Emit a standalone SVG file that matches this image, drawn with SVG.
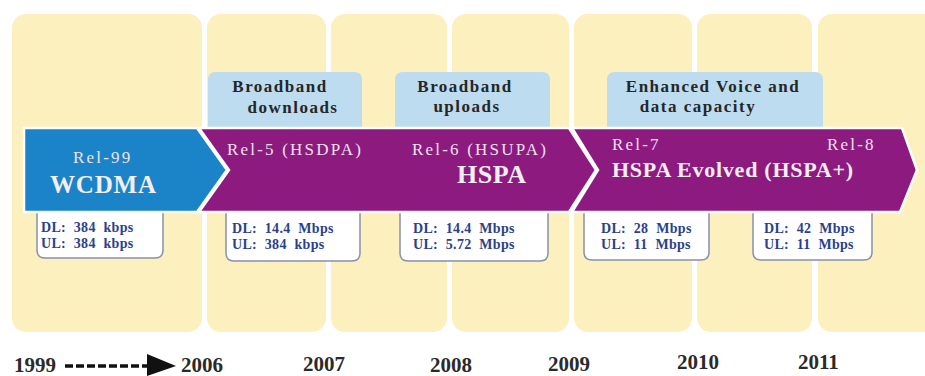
<svg xmlns="http://www.w3.org/2000/svg" width="925" height="376" viewBox="0 0 925 376">
<style>
.col{fill:#fcf0bf}
.lbl{fill:#bddcef}
.lt{font-family:"Liberation Serif",serif;font-weight:bold;font-size:17px;letter-spacing:1.5px;fill:#262626;text-anchor:middle}
.rel{font-family:"Liberation Serif",serif;font-size:17px;letter-spacing:2.2px;fill:#eee2ec}
.big{font-family:"Liberation Serif",serif;font-weight:bold;fill:#f4eef2}
.box{fill:#ffffff;stroke:#8790ad;stroke-width:1.5}
.dt{font-family:"Liberation Serif",serif;font-weight:bold;font-size:14px;letter-spacing:0.3px;word-spacing:4px;fill:#2b3f8c}
.yr{font-family:"Liberation Serif",serif;font-weight:bold;font-size:21px;fill:#2a2a2a}
</style>
<rect width="925" height="376" fill="#ffffff"/>
<g id="columns">
<rect class="col" x="12" y="14" width="190" height="318" rx="14"/>
<rect class="col" x="207" y="14" width="119" height="318" rx="14"/>
<rect class="col" x="331" y="14" width="116" height="318" rx="14"/>
<rect class="col" x="452" y="14" width="117" height="318" rx="14"/>
<rect class="col" x="574" y="14" width="118" height="318" rx="14"/>
<rect class="col" x="697" y="14" width="115" height="318" rx="14"/>
<rect class="col" x="818" y="14" width="120" height="318" rx="14"/>
</g>
<g id="label-downloads">
<path class="lbl" d="M208,130 V80 Q208,72 216,72 H354 Q362,72 362,80 V130 Z"/>
<text class="lt" x="280" y="92">Broadband</text>
<text class="lt" x="293" y="113">downloads</text>
</g>
<g id="label-uploads">
<path class="lbl" d="M395,130 V80 Q395,72 403,72 H542 Q550,72 550,80 V130 Z"/>
<text class="lt" x="465" y="92">Broadband</text>
<text class="lt" x="467" y="112">uploads</text>
</g>
<g id="label-enhanced">
<path class="lbl" d="M607,130 V80 Q607,72 615,72 H815 Q823,72 823,80 V130 Z"/>
<text class="lt" x="713" y="92">Enhanced Voice and</text>
<text class="lt" x="698" y="112">data capacity</text>
</g>
<g id="box-rel99">
<path class="box" d="M37,208 V250 Q37,258 45,258 H155 Q163,258 163,250 V208"/>
<text class="dt" x="41" y="232">DL: 384 kbps</text>
<text class="dt" x="41" y="248">UL: 384 kbps</text>
</g>
<g id="box-rel5">
<path class="box" d="M226,208 V253 Q226,261 234,261 H352 Q360,261 360,253 V208"/>
<text class="dt" x="232" y="233">DL: 14.4 Mbps</text>
<text class="dt" x="232" y="249">UL: 384 kbps</text>
</g>
<g id="box-rel6">
<path class="box" d="M400,208 V253 Q400,261 408,261 H540 Q548,261 548,253 V208"/>
<text class="dt" x="413" y="233" word-spacing="8">DL: 14.4 Mbps</text>
<text class="dt" x="413" y="249" word-spacing="8">UL: 5.72 Mbps</text>
</g>
<g id="box-rel7">
<path class="box" d="M584,208 V252 Q584,260 592,260 H701 Q709,260 709,252 V208"/>
<text class="dt" x="601" y="233">DL: 28 Mbps</text>
<text class="dt" x="601" y="249">UL: 11 Mbps</text>
</g>
<g id="box-rel8">
<path class="box" d="M753,208 V252 Q753,260 761,260 H864 Q872,260 872,252 V208"/>
<text class="dt" x="764" y="233">DL: 42 Mbps</text>
<text class="dt" x="764" y="249">UL: 11 Mbps</text>
</g>
<g id="arrow-hspa-evolved">
<polygon points="572,128 902,128 917,170 900,212 572,212 598,170" fill="#8c1a7f" stroke="#ffffff" stroke-width="2.5" stroke-linejoin="miter"/>
<text class="rel" x="612" y="150" font-size="16" letter-spacing="1.5">Rel-7</text>
<text class="rel" x="827" y="150" font-size="16" letter-spacing="1.5">Rel-8</text>
<text class="big" x="612" y="177" font-size="22" letter-spacing="0.75">HSPA Evolved (HSPA+)</text>
</g>
<g id="arrow-hspa">
<polygon points="199,128 569,128 596,170 569,212 199,212 229,170" fill="#8c1a7f" stroke="#ffffff" stroke-width="2.5"/>
<text class="rel" x="227" y="155">Rel-5 (HSDPA)</text>
<text class="rel" x="412" y="155">Rel-6 (HSUPA)</text>
<text class="big" x="457" y="183" font-size="26" letter-spacing="0.5">HSPA</text>
</g>
<g id="arrow-wcdma">
<polygon points="24,128 197,128 227,170 197,212 24,212" fill="#1b84c8" stroke="#ffffff" stroke-width="2.5"/>
<text class="rel" x="73" y="163" fill="#dfe8f2">Rel-99</text>
<text class="big" x="50" y="193" font-size="25" letter-spacing="0.8">WCDMA</text>
</g>
<g id="connectors">
<line x1="65" y1="366" x2="150" y2="366" stroke="#111" stroke-width="3.5" stroke-dasharray="8,3"/>
<polygon points="147,354 176,366 147,376" fill="#111"/>
</g>
<g id="years">
<text class="yr" x="14" y="372">1999</text>
<text class="yr" x="181" y="372">2006</text>
<text class="yr" x="303" y="371">2007</text>
<text class="yr" x="430" y="372">2008</text>
<text class="yr" x="548" y="371">2009</text>
<text class="yr" x="677" y="369">2010</text>
<text class="yr" x="798" y="369">2011</text>
</g>
</svg>
